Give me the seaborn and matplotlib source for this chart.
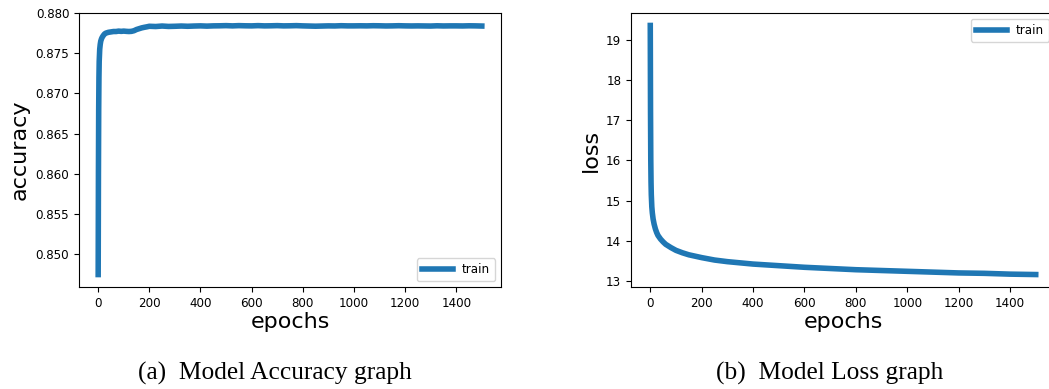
import matplotlib
matplotlib.use("Agg")
import matplotlib.pyplot as plt
import seaborn as sns
import pandas as pd
from matplotlib.patches import Rectangle

# ---- data ----
acc_epochs = [0, 1, 2, 3, 4, 6, 8, 10, 13, 16, 20, 25, 30, 40, 50, 60, 70, 80, 90,
              100, 110, 120, 130, 140, 150, 160, 170, 180, 190, 200, 225, 250, 275,
              300, 325, 350, 375, 400, 425, 450, 475, 500, 525, 550, 575, 600, 625,
              650, 675, 700, 725, 750, 775, 800, 825, 850, 875, 900, 925, 950, 975,
              1000, 1025, 1050, 1075, 1100, 1125, 1150, 1175, 1200, 1225, 1250, 1275,
              1300, 1325, 1350, 1375, 1400, 1425, 1450, 1475, 1500]
acc_values = [0.84750, 0.86000, 0.86800, 0.87200, 0.87400, 0.87550, 0.87610, 0.87650,
              0.87680, 0.87700, 0.87720, 0.87740, 0.87750, 0.87760, 0.87765, 0.87770,
              0.87770, 0.87775, 0.87772, 0.87775, 0.87772, 0.87770, 0.87772, 0.87780,
              0.87795, 0.87805, 0.87815, 0.87822, 0.87828, 0.87835, 0.87832, 0.87838,
              0.87833, 0.87835, 0.87838, 0.87835, 0.87838, 0.87840, 0.87837, 0.87840,
              0.87841, 0.87843, 0.87840, 0.87843, 0.87841, 0.87840, 0.87843, 0.87840,
              0.87841, 0.87843, 0.87840, 0.87841, 0.87843, 0.87840, 0.87838, 0.87836,
              0.87838, 0.87840, 0.87839, 0.87842, 0.87840, 0.87840, 0.87841, 0.87840,
              0.87842, 0.87841, 0.87839, 0.87840, 0.87842, 0.87840, 0.87839, 0.87840,
              0.87839, 0.87838, 0.87841, 0.87839, 0.87840, 0.87840, 0.87839, 0.87841,
              0.87840, 0.87838]

loss_epochs = [0, 1, 2, 3, 4, 6, 8, 11, 15, 20, 25, 30, 40, 50, 60, 80, 100, 125, 150,
               200, 250, 300, 350, 400, 500, 600, 700, 800, 900, 1000, 1100, 1200,
               1300, 1400, 1500]
loss_values = [19.35, 17.20, 16.00, 15.45, 15.15, 14.85, 14.70, 14.55, 14.42, 14.30,
               14.21, 14.14, 14.05, 13.98, 13.92, 13.84, 13.77, 13.71, 13.66, 13.59,
               13.53, 13.49, 13.46, 13.43, 13.39, 13.35, 13.32, 13.29, 13.27, 13.25,
               13.23, 13.21, 13.20, 13.18, 13.17]

series_label = "train"
captions = ["(a)  Model Accuracy graph", "(b)  Model Loss graph"]

acc_df = pd.DataFrame({"epochs": acc_epochs, "accuracy": acc_values})
loss_df = pd.DataFrame({"epochs": loss_epochs, "loss": loss_values})

W, H = 1049, 389
fig = plt.figure(figsize=(W / 100, H / 100), dpi=100)
plt.rcParams["font.family"] = ["DejaVu Sans"]

blue = "#1f77b4"
lw = 4.0
tick_fs = 8.6
label_fs = 16

ax1 = fig.add_axes([79 / W, (H - 287) / H, 422 / W, 274 / H])
ax2 = fig.add_axes([631 / W, (H - 287) / H, 424 / W, 274 / H])

sns.lineplot(data=acc_df, x="epochs", y="accuracy", ax=ax1, color=blue,
             linewidth=lw, label=series_label)
sns.lineplot(data=loss_df, x="epochs", y="loss", ax=ax2, color=blue,
             linewidth=lw, label=series_label)

for ax, ylab in [(ax1, "accuracy"), (ax2, "loss")]:
    ax.set_xlabel("epochs", fontsize=label_fs, labelpad=2)
    ax.set_ylabel(ylab, fontsize=label_fs)
    ax.tick_params(labelsize=tick_fs, length=3.5, width=0.8)
    ax.set_xticks([0, 200, 400, 600, 800, 1000, 1200, 1400])
    for s in ax.spines.values():
        s.set_linewidth(0.8)

acc_ticks = [0.850, 0.855, 0.860, 0.865, 0.870, 0.875, 0.880]
ax1.set_yticks(acc_ticks)
ax1.set_yticklabels([f"{v:.3f}" for v in acc_ticks])
ax2.set_yticks([13, 14, 15, 16, 17, 18, 19])

ax1.legend(loc="lower right", fontsize=tick_fs, handlelength=2.6)
ax2.legend(loc="upper right", fontsize=tick_fs, handlelength=2.6)

# white band imitating the crop below the sub-figures
fig.patches.append(Rectangle((0, 0), 1, (H - 332) / H, transform=fig.transFigure,
                             facecolor="white", edgecolor="none", zorder=5))

cap_font = ["Liberation Serif", "DejaVu Serif"]
fig.text(275 / W, (H - 380) / H, captions[0], ha="center", va="baseline",
         fontsize=18.3, family=cap_font, zorder=10)
fig.text(830 / W, (H - 380) / H, captions[1], ha="center", va="baseline",
         fontsize=18.3, family=cap_font, zorder=10)

fig.savefig("out.png", dpi=100)
